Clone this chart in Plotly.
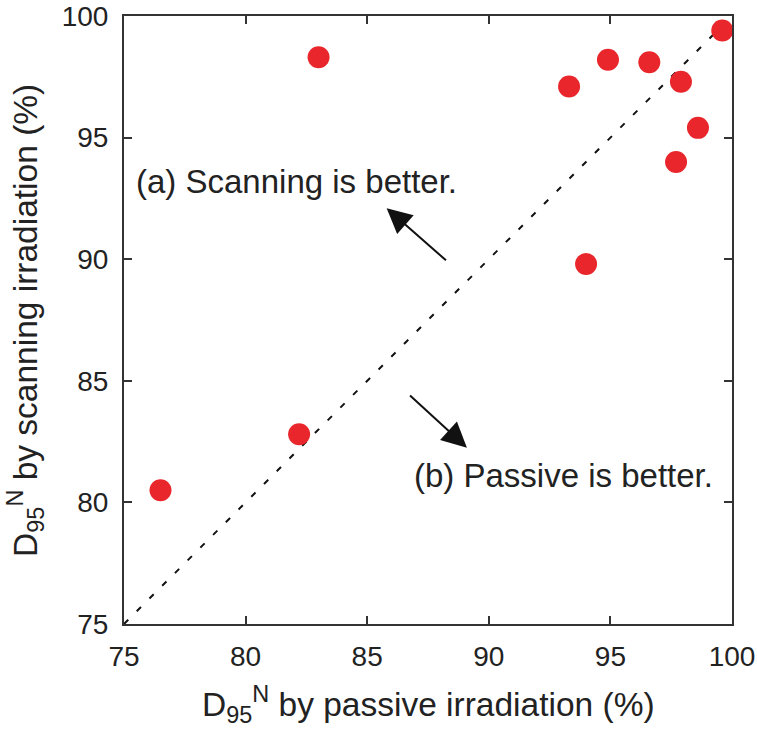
import plotly.graph_objects as go

# D95N values (%)
passive = [83.0, 93.3, 94.9, 96.6, 97.9, 99.6, 98.6, 97.7, 94.0, 82.2, 76.5]
scanning = [98.3, 97.1, 98.2, 98.1, 97.3, 99.4, 95.4, 94.0, 89.8, 82.8, 80.5]

ticks = [75, 80, 85, 90, 95, 100]
diag = [75, 100]

FONT = "Liberation Sans, Arial, sans-serif"
INK = "#222222"

fig = go.Figure()

# identity line
fig.add_trace(go.Scatter(
    x=diag, y=diag, mode="lines",
    line=dict(color="#111111", width=2, dash="6px,12px"),
    hoverinfo="skip", showlegend=False,
))

# points
fig.add_trace(go.Scatter(
    x=passive, y=scanning, mode="markers",
    marker=dict(color="#e8262b", size=22, line=dict(width=0)),
    showlegend=False,
))

axis_style = dict(
    range=[75, 100], tickvals=ticks, ticks="inside", ticklen=8, tickwidth=2,
    tickcolor="#333333", showline=True, linecolor="#333333", linewidth=2,
    mirror="ticks", showgrid=False, zeroline=False, automargin=False,
    ticklabeloverflow="allow",
    tickfont=dict(family=FONT, size=28, color=INK),
)
fig.update_xaxes(**axis_style, ticklabelstandoff=6)
fig.update_yaxes(**axis_style, ticklabelstandoff=8)

# axis titles as annotations so they sit where the reference has them
fig.add_annotation(x=0.5, y=-0.133, xref="paper", yref="paper",
                   text="D<sub>95</sub><sup>N</sup> by passive irradiation (%)",
                   showarrow=False, xanchor="center", yanchor="middle",
                   font=dict(family=FONT, size=33.5, color=INK))
fig.add_annotation(x=-0.163, y=0.5, xref="paper", yref="paper",
                   text="D<sub>95</sub><sup>N</sup> by scanning irradiation (%)",
                   showarrow=False, xanchor="center", yanchor="middle", textangle=-90,
                   font=dict(family=FONT, size=33.5, color=INK))

# text labels
fig.add_annotation(x=75.4, y=93.2, xref="x", yref="y", text="(a) Scanning is better.",
                   showarrow=False, xanchor="left", yanchor="middle",
                   font=dict(family=FONT, size=33, color=INK))
fig.add_annotation(x=99.3, y=81.1, xref="x", yref="y", text="(b) Passive is better.",
                   showarrow=False, xanchor="right", yanchor="middle",
                   font=dict(family=FONT, size=33, color=INK))

# arrows
fig.add_annotation(x=85.8, y=92.1, ax=88.3, ay=89.9, xref="x", yref="y",
                   axref="x", ayref="y", text="", showarrow=True,
                   arrowhead=2, arrowsize=2.5, arrowwidth=2, arrowcolor="#111111")
fig.add_annotation(x=89.1, y=82.25, ax=86.7, ay=84.45, xref="x", yref="y",
                   axref="x", ayref="y", text="", showarrow=True,
                   arrowhead=2, arrowsize=2.5, arrowwidth=2, arrowcolor="#111111")

fig.update_layout(
    width=757, height=731,
    margin=dict(l=124, r=25, t=16, b=107),
    plot_bgcolor="white", paper_bgcolor="white",
    font=dict(family=FONT),
)

# drop the browser's default body margin so the figure fills the window
fig.write_html("out.html", config={"displayModeBar": False},
               post_script="document.body.style.margin='0';")
